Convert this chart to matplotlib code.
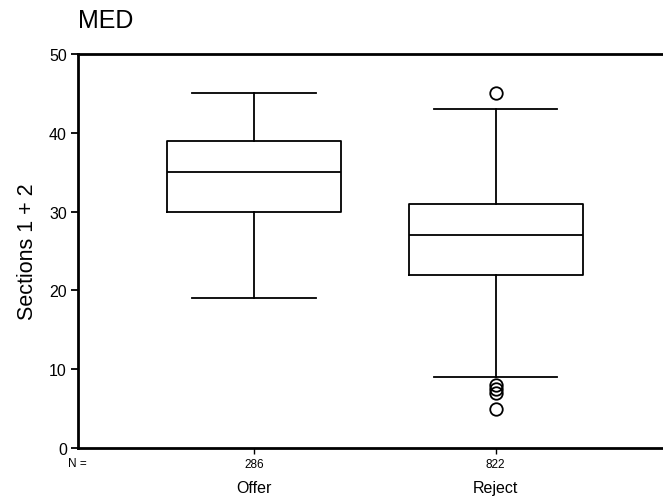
import matplotlib.pyplot as plt

plt.rcParams['font.family'] = ['Liberation Sans', 'DejaVu Sans']

groups = ["Offer", "Reject"]
counts = [286, 822]
q1 = [30, 22]
med = [35, 27]
q3 = [39, 31]
whislo = [19, 9]
whishi = [45, 43]
outliers = [[], [45, 8, 7.5, 7, 5]]

stats = []
for i in range(len(groups)):
    stats.append({"label": groups[i], "q1": q1[i], "med": med[i], "q3": q3[i],
                  "whislo": whislo[i], "whishi": whishi[i], "fliers": outliers[i]})

fig = plt.figure(figsize=(6.63, 5.02), dpi=100)
ax = fig.add_axes([78 / 663, 53 / 502, 1 - 78 / 663, 394 / 502])

lw = 1.3
ax.bxp(stats, positions=[1, 2], widths=0.72, showfliers=True,
       boxprops=dict(color="black", linewidth=lw),
       medianprops=dict(color="black", linewidth=lw),
       whiskerprops=dict(color="black", linewidth=lw),
       capprops=dict(color="black", linewidth=lw),
       capwidths=0.51,
       flierprops=dict(marker="o", markerfacecolor="none", markeredgecolor="black",
                       markersize=9, markeredgewidth=1.3))

ax.set_xlim(0.272, 2.693)
ax.set_ylim(0, 50)
ax.set_yticks([0, 10, 20, 30, 40, 50])
ax.tick_params(axis="y", labelsize=11.5, width=1.3, length=5, direction="out", pad=3)
ax.set_xticks([1, 2])
ax.set_xticklabels([str(c) for c in counts], fontsize=8.5)
ax.tick_params(axis="x", width=1.0, length=4, direction="out", pad=3.5)

for s in ["left", "bottom", "top"]:
    ax.spines[s].set_linewidth(2)
ax.spines["right"].set_visible(False)

fig.text(77 / 663, 1 - 464 / 502, "N =", fontsize=8.5, ha="center", va="center")
for i, g in enumerate(groups):
    ax.text(i + 1, -0.1, g, transform=ax.get_xaxis_transform(), fontsize=11.5,
            ha="center", va="center")

ax.set_ylabel("Sections 1 + 2", fontsize=15.5, labelpad=8)
fig.text(78 / 663, 1 - 21 / 502, "MED", fontsize=18, ha="left", va="center")

fig.savefig("out.png", dpi=100)
